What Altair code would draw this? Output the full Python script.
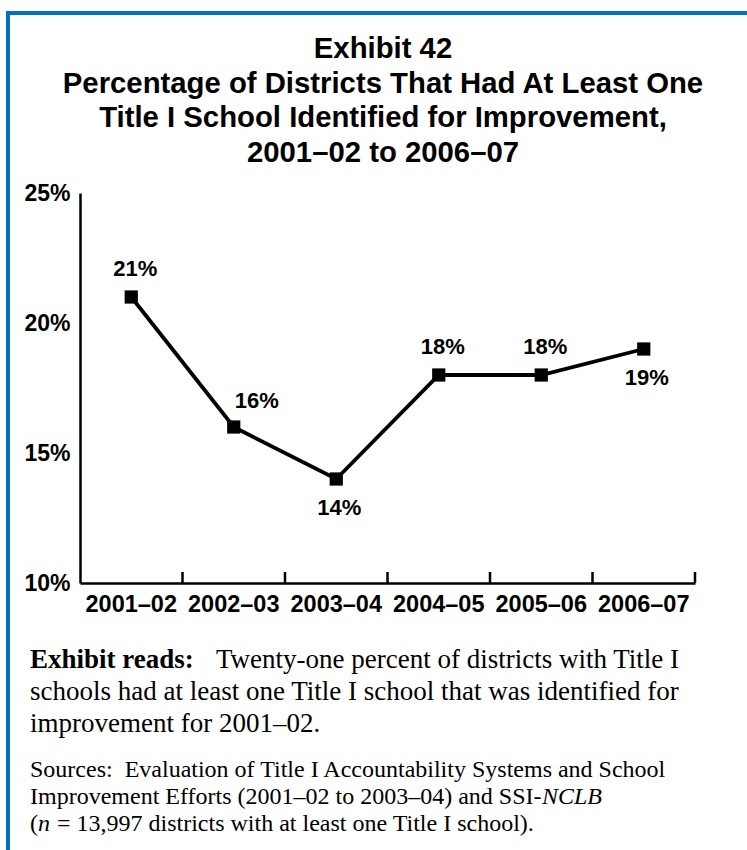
import altair as alt
import pandas as pd

# ---- data ----
years = ["2001–02", "2002–03", "2003–04", "2004–05", "2005–06", "2006–07"]
pct = [21, 16, 14, 18, 18, 19]
y_ticks = [10, 15, 20, 25]
labels_below = ["2003–04", "2006–07"]
label_shift_right = ["2002–03"]

title_lines = [
    "Exhibit 42",
    "Percentage of Districts That Had At Least One",
    "Title I School Identified for Improvement,",
    "2001–02 to 2006–07",
]

df = pd.DataFrame({"year": years, "pct": pct})
df["label"] = [f"{v}%" for v in pct]

W, H = 615, 390
PAD_L, PAD_T = 80, 193
SANS = "Liberation Sans"
SERIF = "Liberation Serif"
BLUE = "#0070C0"
NB = "\u00a0"

xscale = alt.Scale(type="band", paddingInner=0, paddingOuter=0, domain=years)
yscale = alt.Scale(domain=[10, 25], nice=False, zero=False)

x_axis = alt.Axis(title=None, labelFont=SANS, labelFontWeight="bold", labelFontSize=23.5,
                  labelColor="black", ticks=False, domainColor="black", domainWidth=2.5,
                  labelPadding=9, labelAngle=0, grid=False)
y_axis = alt.Axis(title=None, values=y_ticks, labelExpr="datum.value + '%'", labelFont=SANS,
                  labelFontWeight="bold", labelFontSize=23, labelColor="black", ticks=False,
                  domainColor="black", domainWidth=2.5, labelPadding=10, grid=False)

X = alt.X("year:N", sort=years, scale=xscale, bandPosition=0.5, axis=x_axis)
Y = alt.Y("pct:Q", scale=yscale, axis=y_axis)

base = alt.Chart(df)

line = base.mark_line(color="black", strokeWidth=3.8).encode(x=X, y=Y)
pts = base.mark_point(shape="square", filled=True, size=175, color="black", opacity=1).encode(x=X, y=Y)

# inward ticks at the band boundaries
ticks = base.mark_rule(color="black", strokeWidth=2.5).encode(
    x=alt.X("year:N", sort=years, scale=xscale, bandPosition=1, axis=x_axis),
    y=alt.value(H - 11), y2=alt.value(H))

lab_kw = dict(font=SANS, fontWeight="bold", fontSize=22, color="black", baseline="middle")
lab_above = base.transform_filter(
    alt.FieldOneOfPredicate(field="year", oneOf=[y for y in years if y not in labels_below + label_shift_right])
).mark_text(dy=-28, dx=4, **lab_kw).encode(x=X, y=Y, text="label:N")
lab_shift = base.transform_filter(
    alt.FieldOneOfPredicate(field="year", oneOf=label_shift_right)
).mark_text(dy=-26, dx=23, **lab_kw).encode(x=X, y=Y, text="label:N")
lab_below = base.transform_filter(
    alt.FieldOneOfPredicate(field="year", oneOf=labels_below)
).mark_text(dy=29, dx=3, **lab_kw).encode(x=X, y=Y, text="label:N")

one = pd.DataFrame({"k": [0]})


def txt(s, px, py, size, weight="normal", style="normal", font=SANS, align="left"):
    return alt.Chart(one).mark_text(
        text=s, font=font, fontSize=size, fontWeight=weight, fontStyle=style,
        align=align, baseline="alphabetic", color="black"
    ).encode(x=alt.value(px - PAD_L), y=alt.value(py - PAD_T))


layers = [line, ticks, pts, lab_above, lab_shift, lab_below]

# title
for i, t in enumerate(title_lines):
    layers.append(txt(t, 383, 58 + i * 34.6, 29.3, weight="bold", align="center"))

# exhibit reads
BS = 27
layers.append(txt("Exhibit reads:", 30, 668, BS, weight="bold", font=SERIF))
layers.append(txt("Twenty-one percent of districts with Title I", 216, 668, BS, font=SERIF))
layers.append(txt("schools had at least one Title I school that was identified for", 30, 700, BS, font=SERIF))
layers.append(txt("improvement for 2001–02.", 30, 732, BS, font=SERIF))

# sources
SS = 24
layers.append(txt("Sources:" + NB + NB + "Evaluation of Title I Accountability Systems and School", 30, 777, SS, font=SERIF))
layers.append(txt("Improvement Efforts (2001–02 to 2003–04) and SSI-", 30, 804, SS, font=SERIF))
layers.append(txt("NCLB", 30 + 21.331 * SS, 804, SS, style="italic", font=SERIF))
layers.append(txt("(", 30, 831, SS, font=SERIF))
layers.append(txt("n", 30 + 0.333 * SS, 831, SS, style="italic", font=SERIF))
layers.append(txt("= 13,997 districts with at least one Title I school).", 30 + 0.833 * SS + 7, 831, SS, font=SERIF))

# blue frame (left and top edges visible)
frame_top = alt.Chart(one).mark_rule(color=BLUE, strokeWidth=4).encode(
    x=alt.value(6 - PAD_L), x2=alt.value(747 - PAD_L + 5), y=alt.value(13 - PAD_T))
frame_left = alt.Chart(one).mark_rule(color=BLUE, strokeWidth=4).encode(
    x=alt.value(8 - PAD_L), y=alt.value(11 - PAD_T), y2=alt.value(850 - PAD_T + 5))
layers += [frame_top, frame_left]

chart = alt.layer(*layers).properties(
    width=W, height=H,
    padding={"left": PAD_L, "top": PAD_T, "right": 747 - PAD_L - W, "bottom": 850 - PAD_T - H},
    autosize=alt.AutoSizeParams(type="none"),
    background="white",
).configure_view(stroke=None)

chart.save("out.html", embed_options={"renderer": "svg", "actions": False})
